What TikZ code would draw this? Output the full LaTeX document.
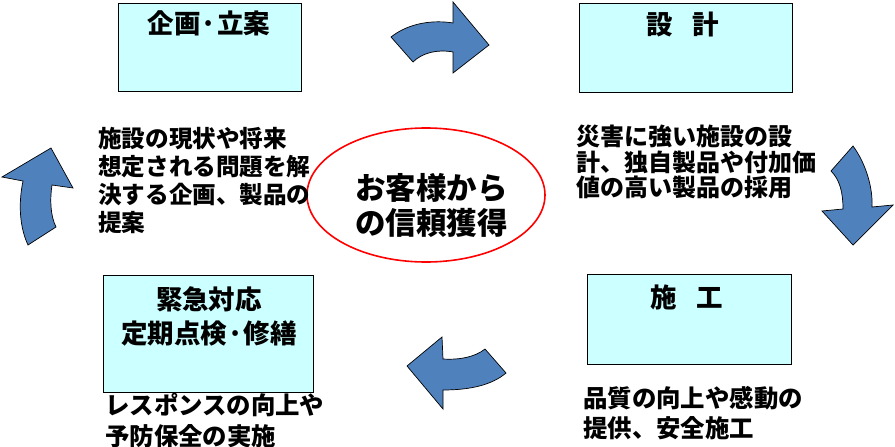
\documentclass[tikz,border=0pt]{standalone}
\usepackage{fontspec}
\setmainfont{Noto Sans CJK JP}
\usetikzlibrary{shapes.geometric}
\definecolor{boxfill}{HTML}{CCFFFF}
\definecolor{arrowblue}{HTML}{4F81BD}
\begin{document}
\begin{tikzpicture}[x=1pt,y=-1pt,
  box/.style={draw=black, line width=1.3pt, fill=boxfill, inner sep=0, anchor=north west},
  title/.style={inner sep=0, align=center, font=\bfseries\fontsize{26.5}{34}\selectfont},
  body/.style={inner sep=0, align=left, anchor=west, font=\bfseries\fontsize{24}{28}\selectfont},
  cyclearrow/.style={draw=black, line width=0.7pt, fill=arrowblue, line join=miter}]
\useasboundingbox (0,0) rectangle (895,447);
% boxes
\node[box, minimum width=183, minimum height=88] (b1) at (118,3) {};
\node[box, minimum width=213, minimum height=89] (b2) at (579,3) {};
\node[box, minimum width=204, minimum height=90] (b3) at (587,274) {};
\node[box, minimum width=210, minimum height=117] (b4) at (103,275) {};
% titles
\node[title] (t1) at (209,23) {企画·立案};
\node[title] (t2) at (683,24) {設\hspace{0.75em}計};
\node[title] (t3) at (687,297) {施\hspace{0.75em}工};
\node[title] (t4) at (209,316) {緊急対応\\定期点検·修繕};
% center ellipse
\node[draw=red, line width=1.6pt, ellipse, minimum width=238, minimum height=134, inner sep=0] (c) at (426,195) {};
\node[inner sep=0, align=left, anchor=west, font=\bfseries\fontsize{30.5}{35}\selectfont] (ct) at (355,205.5) {お客様から\\の信頼獲得};
% body texts
\node[body, font=\bfseries\fontsize{23.6}{28}\selectfont] (d1) at (98,180.5) {施設の現状や将来\\想定される問題を解\\決する企画、製品の\\提案};
\node[body, font=\bfseries\fontsize{24}{25.5}\selectfont] (d2) at (576,162) {災害に強い施設の設\\計、独自製品や付加価\\値の高い製品の採用};
\node[body, font=\bfseries\fontsize{24.4}{30}\selectfont] (d3) at (583,413) {品質の向上や感動の\\提供、安全施工};
\node[body, font=\bfseries\fontsize{24.4}{31}\selectfont] (d4) at (105,420.5) {レスポンスの向上や\\予防保全の実施};
% curved block arrows
\path[cyclearrow] (391,37) .. controls (410,22) and (435,20) .. (453,23)
  -- (453,2) -- (489,45) -- (453,73) -- (453,52)
  .. controls (437,49) and (422,53) .. (413,62) -- cycle;
\path[cyclearrow] (853,146) .. controls (867,165) and (873,190) .. (872,207)
  -- (893,205) -- (853,245) -- (822,211) -- (843,209)
  .. controls (843,193) and (840,180) .. (831,171) -- cycle;
\path[cyclearrow] (506,373) .. controls (492,385) and (470,390) .. (443,390)
  -- (443,409) -- (407,366) -- (442,337) -- (443,359)
  .. controls (460,360) and (475,357) .. (485,349) -- cycle;
\path[cyclearrow] (28,245) .. controls (20,228) and (18,205) .. (23,181)
  -- (2,177) -- (51,148) -- (73,188) -- (52,185)
  .. controls (50,198) and (50,215) .. (56,227) -- cycle;
\end{tikzpicture}
\end{document}
